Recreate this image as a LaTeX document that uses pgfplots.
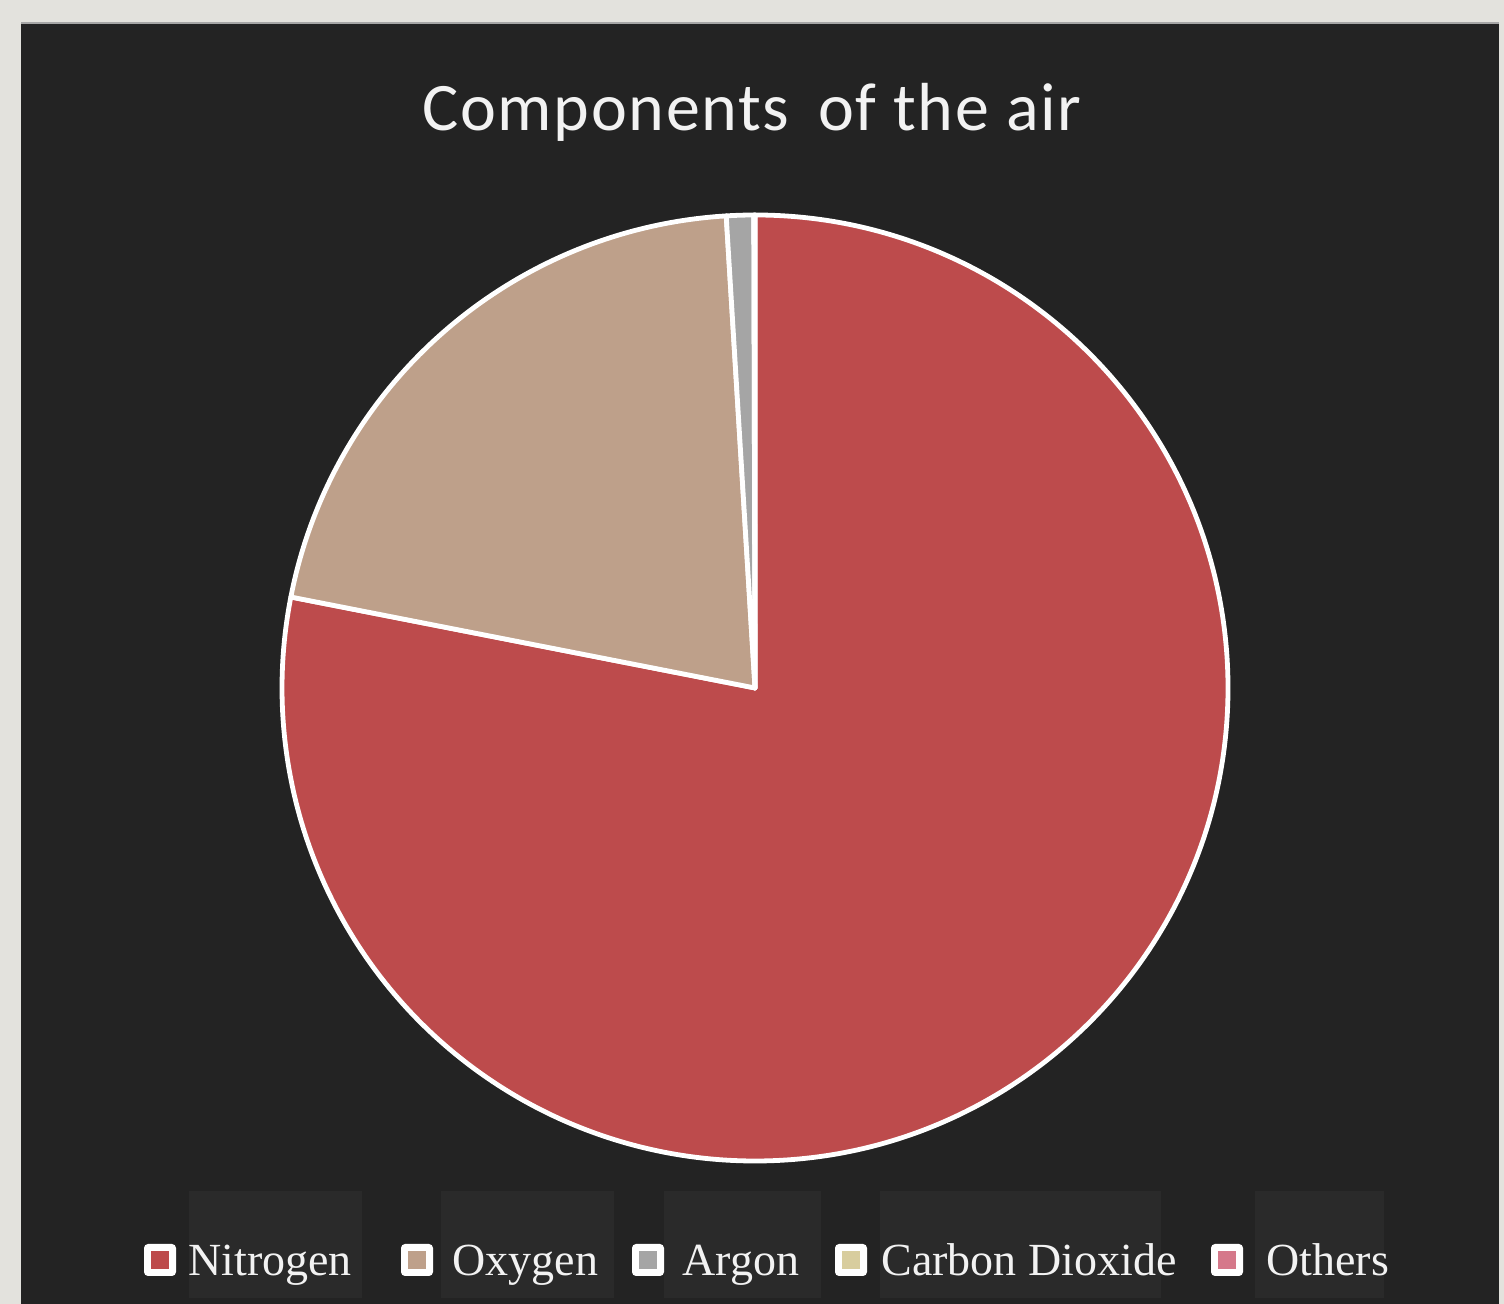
\documentclass[border=0pt]{standalone}
\usepackage{pgfplots}
\usepackage{pgfplotstable}
\pgfplotsset{compat=1.18}
\usepackage{fontspec}
\setmainfont{Liberation Serif}
\newfontfamily\titlefont[LetterSpace=2.5]{Carlito}
\definecolor{frame}{HTML}{E3E2DD}
\definecolor{panel}{HTML}{232323}
\definecolor{lbox}{HTML}{2A2A2A}
\definecolor{cN}{HTML}{BD4B4C}
\definecolor{cO}{HTML}{BEA08A}
\definecolor{cA}{HTML}{A5A5A5}
\definecolor{cC}{HTML}{D8CD9E}
\definecolor{cX}{HTML}{D5788A}
\definecolor{txt}{HTML}{F2F2F2}

\pgfplotstableread[col sep=comma]{
name,value,color
Nitrogen,78.08,cN
Oxygen,20.95,cO
Argon,0.93,cA
Carbon Dioxide,0.04,cC
Others,0.002,cX
}\airdata

\newcommand\legmark[2]{%
  \fill[white, rounded corners=2pt] (axis cs:#1-16,28) rectangle (axis cs:#1+16,60);
  \fill[#2] (axis cs:#1-9,35) rectangle (axis cs:#1+9,53);
}
\newcommand\legtext[2]{%
  \node[anchor=base west, inner sep=0pt, text=txt, font=\fontsize{23}{27}\selectfont]
    at (axis cs:#1,28) {#2};
}

\begin{document}
\begin{tikzpicture}
\begin{axis}[
  x=0.5pt, y=0.5pt,
  xmin=0, xmax=1504, ymin=0, ymax=1304,
  hide axis, clip=false,
  anchor=origin, at={(0,0)},
]
% background frame and dark panel
\fill[frame] (axis cs:0,0) rectangle (axis cs:1504,1304);
\fill[panel] (axis cs:21,0) rectangle (axis cs:1499,1281);
\draw[gray!70, line width=1pt] (axis cs:21,1281) -- (axis cs:1499,1281);
% title
\node[anchor=base, text=txt, font=\titlefont\fontsize{34}{40}\selectfont]
  at (axis cs:752,1173) {Components \,of the air};
% pie slices
\def\cum{0}
\pgfplotsforeachungrouped \i in {0,...,4}{%
  \pgfplotstablegetelem{\i}{value}\of\airdata \let\v=\pgfplotsretval
  \pgfplotstablegetelem{\i}{color}\of\airdata \let\c=\pgfplotsretval
  \pgfmathsetmacro\sa{90-3.6*\cum}%
  \pgfmathsetmacro\ea{90-3.6*(\cum+\v)}%
  \pgfmathsetmacro\cum{\cum+\v}%
  \edef\temp{\noexpand\filldraw[fill=\c, draw=white, line width=2.4pt, line join=round]
    (axis cs:755,616) -- ++(\sa:236.5pt) arc[start angle=\sa, end angle=\ea, radius=236.5pt] -- cycle;}%
  \temp
}
% legend background boxes
\fill[lbox] (axis cs:189,6) rectangle (axis cs:362,113);
\fill[lbox] (axis cs:441,6) rectangle (axis cs:614,113);
\fill[lbox] (axis cs:664,6) rectangle (axis cs:821,113);
\fill[lbox] (axis cs:880,6) rectangle (axis cs:1161,113);
\fill[lbox] (axis cs:1255,6) rectangle (axis cs:1384,113);
% legend markers
\legmark{160}{cN}
\legmark{417}{cO}
\legmark{648}{cA}
\legmark{851}{cC}
\legmark{1227}{cX}
% legend texts
\legtext{188}{Nitrogen}
\legtext{452}{Oxygen}
\legtext{682}{Argon}
\legtext{881}{Carbon Dioxide}
\legtext{1266}{Others}
\end{axis}
\end{tikzpicture}
\end{document}
